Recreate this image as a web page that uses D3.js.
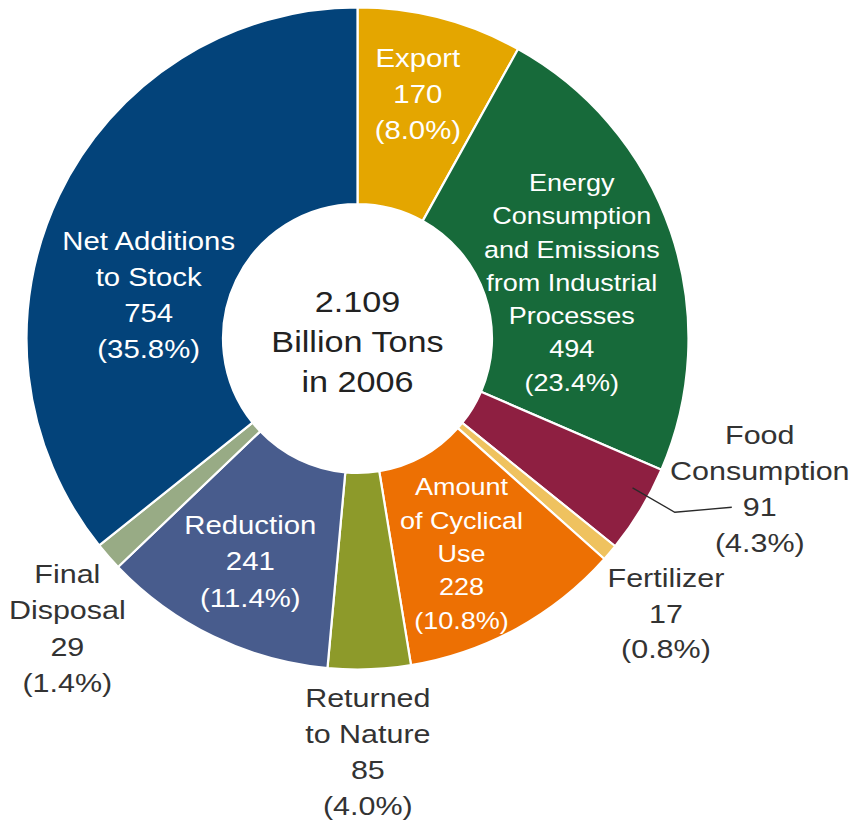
<!DOCTYPE html>
<html>
<head>
<meta charset="utf-8">
<script src="https://cdn.jsdelivr.net/npm/d3@7"></script>
<style>
  html, body { margin: 0; padding: 0; background: #ffffff; }
  svg { display: block; }
  text { font-family: "Liberation Sans", Arial, sans-serif; }
</style>
</head>
<body>
<svg id="chart" width="850" height="822"></svg>
<script>
// Material flow breakdown, clockwise from 12 o'clock
const categories = [
  "Export",
  "Energy Consumption and Emissions from Industrial Processes",
  "Food Consumption",
  "Fertilizer",
  "Amount of Cyclical Use",
  "Returned to Nature",
  "Reduction",
  "Final Disposal",
  "Net Additions to Stock"
];
const values = [170, 494, 91, 17, 228, 85, 241, 29, 754];
const shareLabels = ["8.0%", "23.4%", "4.3%", "0.8%", "10.8%", "4.0%", "11.4%", "1.4%", "35.8%"];
const nameLines = [
  ["Export"],
  ["Energy", "Consumption", "and Emissions", "from Industrial", "Processes"],
  ["Food", "Consumption"],
  ["Fertilizer"],
  ["Amount", "of Cyclical", "Use"],
  ["Returned", "to Nature"],
  ["Reduction"],
  ["Final", "Disposal"],
  ["Net Additions", "to Stock"]
];
const centerLines = ["2.109", "Billion Tons", "in 2006"];

const colors = ["#E4A600", "#176A3A", "#8E1F41", "#EFC25F", "#ED7003", "#8D9A2A", "#485C8D", "#98AB85", "#03437A"];

// label placement: offset from the ring centroid, font size, line height, inside/outside
const labelLayout = [
  { dx: 2,   dy: -19, size: 25.5, lh: 36,   inside: true },
  { dx: -6,  dy: 19,  size: 23.5, lh: 33.3, inside: true },
  { dx: 203, dy: 30,  size: 26.5, lh: 36,   inside: false },
  { dx: 131, dy: 124, size: 26.5, lh: 35.5, inside: false },
  { dx: -8,  dy: 11,  size: 23.5, lh: 33.5, inside: true },
  { dx: 2,   dy: 180, size: 26.5, lh: 36,   inside: false },
  { dx: -6,  dy: 13,  size: 25.5, lh: 36.5, inside: true },
  { dx: -115,dy: 136, size: 26.5, lh: 36.5, inside: false },
  { dx: 1,   dy: 57,  size: 25.5, lh: 36,   inside: true }
];
const stretchX = 1.15;

const cx = 357.5, cy = 338.5;
const outerR = 331, innerR = 134.5;

const svg = d3.select("#chart");
const g = svg.append("g").attr("transform", `translate(${cx},${cy})`);

const data = categories.map((c, i) => ({ name: c, value: values[i], i }));
const pie = d3.pie().sort(null).value(d => d.value).startAngle(0).endAngle(2 * Math.PI);
const arcs = pie(data);

const arc = d3.arc().innerRadius(innerR).outerRadius(outerR);
const midArc = d3.arc().innerRadius((innerR + outerR) / 2).outerRadius((innerR + outerR) / 2);

g.selectAll("path.slice")
  .data(arcs)
  .join("path")
  .attr("class", "slice")
  .attr("d", arc)
  .attr("fill", d => colors[d.data.i])
  .attr("stroke", "#ffffff")
  .attr("stroke-width", 2.2)
  .attr("stroke-linejoin", "round");

// leader line for the Food Consumption label
(function () {
  const a = arcs[2];
  const ang = (a.startAngle + a.endAngle) / 2 - 2.6 * Math.PI / 180;
  const r0 = 313;
  const c = midArc.centroid(a);
  const L = labelLayout[2];
  const lx = c[0] + L.dx, ly = c[1] + L.dy;
  const pts = [
    [r0 * Math.sin(ang), -r0 * Math.cos(ang)],
    [lx - 85, ly + 23.5],
    [lx - 28, ly + 18.5]
  ];
  g.append("path")
    .attr("d", d3.line()(pts))
    .attr("fill", "none")
    .attr("stroke", "#2a2a2a")
    .attr("stroke-width", 1.3);
})();

// slice labels
arcs.forEach(a => {
  const i = a.data.i;
  const L = labelLayout[i];
  const c = midArc.centroid(a);
  const x = c[0] + L.dx, y = c[1] + L.dy;
  const lines = nameLines[i].concat([String(values[i]), "(" + shareLabels[i] + ")"]);
  const n = lines.length;
  const t = g.append("g")
    .attr("transform", `translate(${x},${y}) scale(${stretchX},1)`)
    .append("text")
    .attr("text-anchor", "middle")
    .attr("font-size", L.size)
    .attr("fill", L.inside ? "#ffffff" : "#333333");
  lines.forEach((s, k) => {
    t.append("tspan")
      .attr("x", 0)
      .attr("y", (k - (n - 1) / 2) * L.lh + 0.36 * L.size)
      .text(s);
  });
});

// centre caption
const ct = g.append("g")
  .attr("transform", `translate(0,2.5) scale(1.14,1)`)
  .append("text")
  .attr("text-anchor", "middle")
  .attr("font-size", 30)
  .attr("fill", "#222222");
centerLines.forEach((s, k) => {
  ct.append("tspan")
    .attr("x", 0)
    .attr("y", (k - 1) * 40 + 0.36 * 30)
    .text(s);
});
</script>
</body>
</html>
